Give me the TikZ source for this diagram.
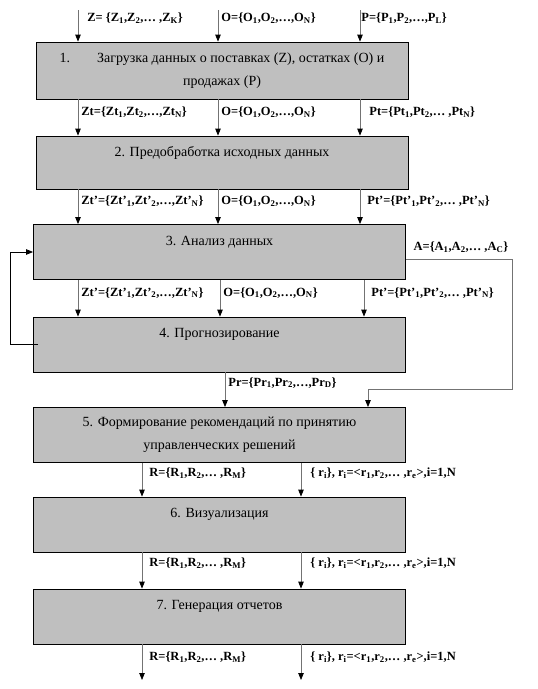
\documentclass[tikz,border=0pt]{standalone}
\usepackage{fontspec}
\setmainfont{Liberation Serif}
\usetikzlibrary{arrows.meta, calc, positioning}
\newcommand{\ix}[1]{\textsubscript{#1}}

\begin{document}
\begin{tikzpicture}[x=1pt, y=-1pt,
  >={Triangle[length=7pt, width=5.5pt, color=black, fill=black]},
  stage/.style={draw, line width=0.8pt, fill=black!25, minimum width=372pt, minimum height=55pt, align=center, inner sep=0pt, font=\fontsize{14}{23}\selectfont},
  flow/.style={->, draw=black!55, line width=0.8pt},
  back/.style={->, draw=black, line width=0.8pt},
  lbl/.style={right, xshift=2pt, inner sep=1pt, font=\bfseries\fontsize{12.5}{13}\selectfont}]

  \useasboundingbox (0,0) rectangle (538,689);

  % stages
  \node[stage, minimum height=57pt] (b1) at (222,70.5) {1.\hspace{27pt}Загрузка данных о поставках (Z), остатках (O) и\\продажах (P)};
  \node[stage, minimum height=53pt] (b2) at (222,162.5) {2. Предобработка исходных данных\\\mbox{}};
  \node[stage] (b3) at (219.5,252) {3. Анализ данных\\\mbox{}};
  \node[stage] (b4) at (219.5,344.5) {4. Прогнозирование\\\mbox{}};
  \node[stage] (b5) at (219.5,435) {5. Формирование рекомендаций по принятию\\управленческих решений};
  \node[stage] (b6) at (219.5,524.5) {6. Визуализация\\\mbox{}};
  \node[stage] (b7) at (219.5,616.5) {7. Генерация отчетов\\\mbox{}};

  % columns
  \coordinate (cz) at (78,0);
  \coordinate (co) at (218,0);
  \coordinate (cp) at (360,0);
  \coordinate (cob) at (220,0);
  \coordinate (cpb) at (364,0);
  \coordinate (cpr) at (225,0);
  \coordinate (cr) at (142,0);
  \coordinate (cri) at (301,0);
  \coordinate (inz) at (78,10);
  \coordinate (ino) at (218,10);
  \coordinate (inp) at (360,10);
  \coordinate (outr) at (142,680);
  \coordinate (outri) at (301,680);
  \coordinate (acorner) at (512,389);
  \coordinate (aturn) at (368,389);

  % inputs
  \draw[flow] (inz) -- node[lbl, pos=0.25, xshift=6pt] {Z= \{Z\ix{1},Z\ix{2},\ldots\ ,Z\ix{K}\}} (b1.north -| cz);
  \draw[flow] (ino) -- node[lbl, pos=0.25] {O=\{O\ix{1},O\ix{2},\ldots,O\ix{N}\}} (b1.north -| co);
  \draw[flow] (inp) -- node[lbl, pos=0.25, xshift=-2pt] {P=\{P\ix{1},P\ix{2},\ldots,P\ix{L}\}} (b1.north -| cp);

  \draw[flow] (b1.south -| cz) -- node[lbl, pos=0.35] {Zt=\{Zt\ix{1},Zt\ix{2},\ldots,Zt\ix{N}\}} (b2.north -| cz);
  \draw[flow] (b1.south -| co) -- node[lbl, pos=0.35] {O=\{O\ix{1},O\ix{2},\ldots,O\ix{N}\}} (b2.north -| co);
  \draw[flow] (b1.south -| cp) -- node[lbl, pos=0.35, xshift=6pt] {Pt=\{Pt\ix{1},Pt\ix{2},\ldots\ ,Pt\ix{N}\}} (b2.north -| cp);

  \draw[flow] (b2.south -| cz) -- node[lbl, pos=0.35] {Zt’=\{Zt’\ix{1},Zt’\ix{2},\ldots,Zt’\ix{N}\}} (b3.north -| cz);
  \draw[flow] (b2.south -| co) -- node[lbl, pos=0.35] {O=\{O\ix{1},O\ix{2},\ldots,O\ix{N}\}} (b3.north -| co);
  \draw[flow] (b2.south -| cp) -- node[lbl, pos=0.35, xshift=4pt] {Pt’=\{Pt’\ix{1},Pt’\ix{2},\ldots\ ,Pt’\ix{N}\}} (b3.north -| cp);

  \draw[flow] (b3.south -| cz) -- node[lbl, pos=0.35] {Zt’=\{Zt’\ix{1},Zt’\ix{2},\ldots,Zt’\ix{N}\}} (b4.north -| cz);
  \draw[flow] (b3.south -| cob) -- node[lbl, pos=0.35] {O=\{O\ix{1},O\ix{2},\ldots,O\ix{N}\}} (b4.north -| cob);
  \draw[flow] (b3.south -| cpb) -- node[lbl, pos=0.35, xshift=4pt] {Pt’=\{Pt’\ix{1},Pt’\ix{2},\ldots\ ,Pt’\ix{N}\}} (b4.north -| cpb);

  % feedback and analysis output
  \draw[back] ([xshift=5pt]b4.west) -- ++(-28,0) |- (b3.west);
  \draw[flow] ([yshift=-7pt]b3.east) -| node[lbl, pos=0.25, above=5pt] {A=\{A\ix{1},A\ix{2},\ldots\ ,A\ix{C}\}} (acorner) -- (aturn) -- (b5.north -| aturn);

  \draw[flow] (b4.south -| cpr) -- node[lbl, pos=0.3] {Pr=\{Pr\ix{1},Pr\ix{2},\ldots,Pr\ix{D}\}} (b5.north -| cpr);

  % results
  \draw[flow] (b5.south -| cr) -- node[lbl, pos=0.3, xshift=4pt] {R=\{R\ix{1},R\ix{2},\ldots\ ,R\ix{M}\}} (b6.north -| cr);
  \draw[flow] (b5.south -| cri) -- node[lbl, pos=0.3, xshift=6pt] {\{ r\ix{i}\}, r\ix{i}=<r\ix{1},r\ix{2},\ldots\ ,r\ix{e}>,i=1,N} (b6.north -| cri);
  \draw[flow] (b6.south -| cr) -- node[lbl, pos=0.3, xshift=4pt] {R=\{R\ix{1},R\ix{2},\ldots\ ,R\ix{M}\}} (b7.north -| cr);
  \draw[flow] (b6.south -| cri) -- node[lbl, pos=0.3, xshift=6pt] {\{ r\ix{i}\}, r\ix{i}=<r\ix{1},r\ix{2},\ldots\ ,r\ix{e}>,i=1,N} (b7.north -| cri);
  \draw[flow] (b7.south -| cr) -- node[lbl, pos=0.35, xshift=4pt] {R=\{R\ix{1},R\ix{2},\ldots\ ,R\ix{M}\}} (outr);
  \draw[flow] (b7.south -| cri) -- node[lbl, pos=0.35, xshift=6pt] {\{ r\ix{i}\}, r\ix{i}=<r\ix{1},r\ix{2},\ldots\ ,r\ix{e}>,i=1,N} (outri);
\end{tikzpicture}
\end{document}
